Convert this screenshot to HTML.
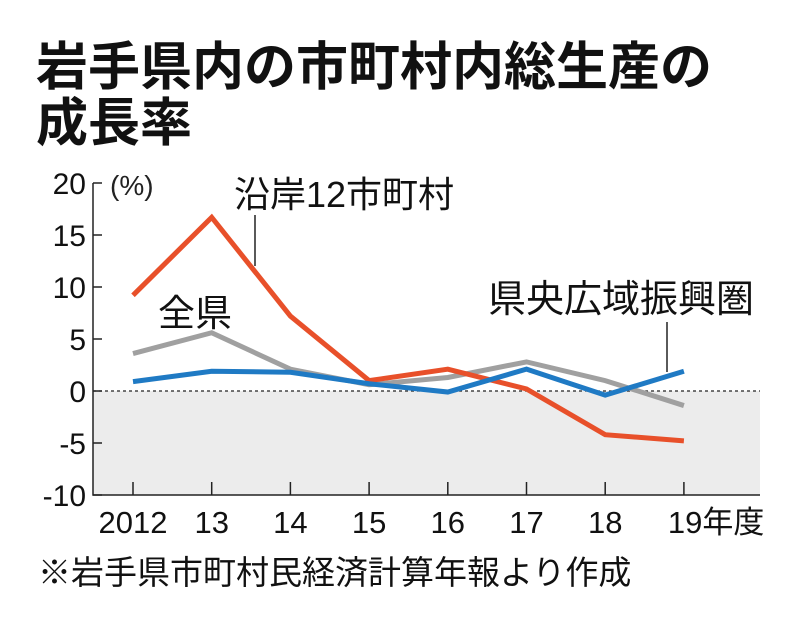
<!DOCTYPE html>
<html><head><meta charset="utf-8"><style>
body{margin:0;background:#fff;}
svg{display:block;font-family:"Liberation Sans","Noto Sans CJK JP",sans-serif;}
.n{font-family:"Liberation Sans Narrow","Liberation Sans","Noto Sans CJK JP",sans-serif;}
</style></head><body>
<svg id="c" width="800" height="620" viewBox="0 0 800 620">
<text x="36" y="85" font-size="52" font-weight="bold" fill="#111">岩手県内の市町村内総生産の</text>
<text x="36" y="141" font-size="52" font-weight="bold" fill="#111">成長率</text>
<rect x="93" y="391" width="667" height="104" fill="#ececec"/>
<line x1="93" y1="391" x2="760" y2="391" stroke="#222" stroke-width="1.3" stroke-dasharray="3,3"/>
<g id="axes"></g>
<g id="lines"></g>
<text x="110" y="195" font-size="28" fill="#222">(%)</text>
<text x="234" y="207" font-size="36" fill="#111">沿岸12市町村</text>
<line x1="255" y1="215" x2="255" y2="266" stroke="#222" stroke-width="1.5"/>
<text x="158" y="326" font-size="37" fill="#111">全県</text>
<text x="488" y="312" font-size="38" fill="#111">県央広域振興圏</text>
<line x1="667" y1="322" x2="667" y2="372" stroke="#222" stroke-width="1.5"/>
<text x="38" y="584" font-size="33" fill="#111">※岩手県市町村民経済計算年報より作成</text>
</svg>
<script>
const categories=["2012","13","14","15","16","17","18","19年度"];
const coastal=[9.2,16.7,7.2,1.0,2.1,0.2,-4.2,-4.8];
const prefecture=[3.6,5.6,2.1,0.6,1.3,2.8,1.0,-1.4];
const kenou=[0.9,1.9,1.8,0.7,-0.1,2.1,-0.4,1.9];
const yTicks=[20,15,10,5,0,-5,-10];
const NS="http://www.w3.org/2000/svg";
const x=i=>133+i*78.7;
const y=v=>391-v*10.4;
const ax=document.getElementById('axes'), lg=document.getElementById('lines');
function mk(t,a,p){const e=document.createElementNS(NS,t);for(const k in a)e.setAttribute(k,a[k]);p.appendChild(e);return e;}
let e=mk('path',{d:`M93 ${y(20)} V495 H760`,fill:'none',stroke:'#222','stroke-width':1.5},ax);


yTicks.forEach(v=>{
 let t=mk('line',{x1:93,x2:102,y1:y(v),y2:y(v),stroke:'#222','stroke-width':1.5},ax);
 
 
 let l=mk('text',{x:86,y:y(v)+11,'text-anchor':'end','font-size':30,fill:'#111',class:'n'},ax);
 l.textContent=v;
 
 
});
categories.forEach((c,i)=>{
 let t=mk('line',{x1:x(i),x2:x(i),y1:495,y2:482,stroke:'#222','stroke-width':1.5},ax);
 
 
 let l=mk('text',{x:i==7?x(i)-16:x(i),y:533,'text-anchor':i==7?'start':'middle','font-size':31,fill:'#111',class:'n'},ax);
 l.textContent=c;
 
 
});
function line(d,col,name){
 let p=mk('polyline',{points:d.map((v,i)=>x(i)+','+y(v)).join(' '),fill:'none',stroke:col,'stroke-width':5,'stroke-linejoin':'miter'},lg);
 
 
}
line(prefecture,'#a0a0a0','line-prefecture');
line(coastal,'#e8502a','line-coastal');
line(kenou,'#1f7ac4','line-kenou');
</script>
</body></html>
